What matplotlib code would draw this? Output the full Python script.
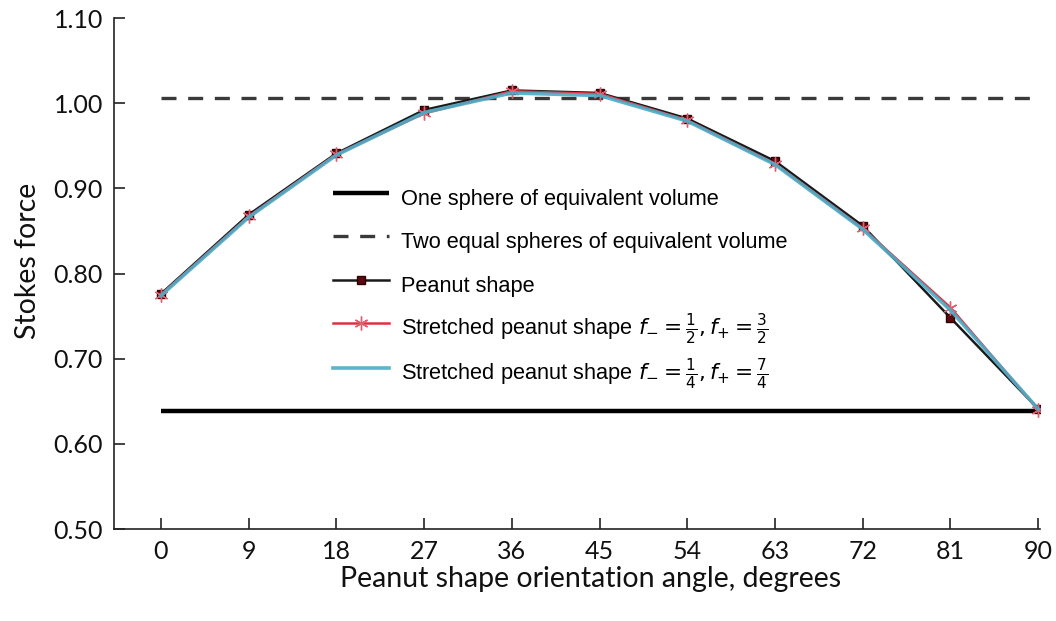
import numpy as np
import matplotlib.pyplot as plt

# orientation angle (degrees)
angle = [0, 9, 18, 27, 36, 45, 54, 63, 72, 81, 90]

# reference levels
one_sphere = 0.639
two_spheres = 1.006

# Stokes force for each shape
peanut = [0.776, 0.869, 0.941, 0.992, 1.015, 1.012, 0.982, 0.932, 0.856, 0.748, 0.641]
stretched_half = [0.775, 0.867, 0.940, 0.988, 1.014, 1.011, 0.980, 0.929, 0.853, 0.760, 0.640]
stretched_quarter = [0.774, 0.866, 0.939, 0.989, 1.012, 1.009, 0.979, 0.928, 0.852, 0.757, 0.641]

xticks = [0, 9, 18, 27, 36, 45, 54, 63, 72, 81, 90]
yticks = [0.50, 0.60, 0.70, 0.80, 0.90, 1.00, 1.10]

fig = plt.figure(figsize=(10.56, 6.21), dpi=100)
ax = fig.add_axes([0.108, 0.148, 0.877, 0.823])

x_line = [0, 90]
ax.plot(x_line, [one_sphere] * 2, color="black", lw=3.2, solid_capstyle="butt",
        label="One sphere of equivalent volume")
ax.plot(x_line, [two_spheres] * 2, color="#3a3a3a", lw=2.4, dashes=(4.5, 3.5),
        label="Two equal spheres of equivalent volume")
ax.plot(angle, peanut, color="#1a1a1a", lw=1.8, marker="s", ms=6,
        markerfacecolor="#5a0a10", markeredgecolor="#300000",
        label="Peanut shape")
ax.plot(angle, stretched_half, color="#e03040", lw=1.8, marker=(6, 2, 0), ms=10,
        markeredgecolor="#e06070", markeredgewidth=1.0,
        label=r"Stretched peanut shape $\mathbf{\it{f}_{-}}=\frac{1}{2},\mathbf{\it{f}_{+}}=\frac{3}{2}$")
ax.plot(angle, stretched_quarter, color="#4bacc6", lw=2.6, alpha=0.9,
        label=r"Stretched peanut shape $\mathbf{\it{f}_{-}}=\frac{1}{4},\mathbf{\it{f}_{+}}=\frac{7}{4}$")

ax.set_xlim(-4.8, 90.2)
ax.set_ylim(0.50, 1.10)
ax.set_xticks(xticks)
ax.set_yticks(yticks)
ax.set_yticklabels([f"{v:.2f}" for v in yticks])

for s in ["top", "right"]:
    ax.spines[s].set_visible(False)
for s in ["left", "bottom"]:
    ax.spines[s].set_linewidth(1.2)
    ax.spines[s].set_color("#222222")

ax.tick_params(direction="in", length=8, width=1.2, colors="#222222",
               labelsize=18, pad=8)
for lab in ax.get_xticklabels() + ax.get_yticklabels():
    lab.set_fontfamily("Lato")
    lab.set_color("#111111")

ax.set_xlabel("Peanut shape orientation angle, degrees", fontsize=20.5,
              family="Lato", color="#111111", labelpad=2)
ax.set_ylabel("Stokes force", fontsize=20.5, family="Lato",
              color="#111111", labelpad=9)
ax.xaxis.label.set_x(0.514)
ax.yaxis.label.set_y(0.524)

# fixed row height so the plain and fraction labels are evenly spaced
leg = ax.legend(loc="upper left", bbox_to_anchor=(0.215, 0.72), frameon=False,
                prop={"family": "Liberation Sans", "size": 15.7},
                handlelength=2.6, handletextpad=0.55, labelspacing=0.45,
                handleheight=2.0)

fig.savefig("out.png", dpi=100)
